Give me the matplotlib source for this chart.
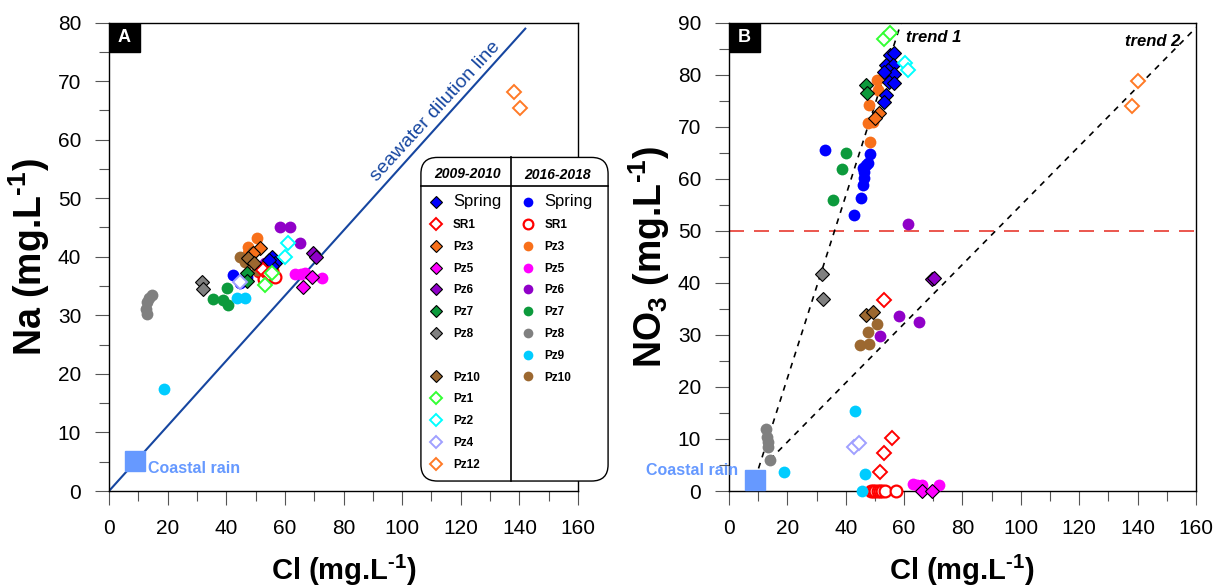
import matplotlib
matplotlib.use('Agg')
import matplotlib.pyplot as plt
from matplotlib.lines import Line2D
from matplotlib.patches import FancyBboxPatch, Rectangle
from matplotlib.ticker import MultipleLocator

plt.rcParams['font.family'] = ['Liberation Sans', 'DejaVu Sans']
plt.rcParams['mathtext.fontset'] = 'custom'
plt.rcParams['mathtext.rm'] = 'Liberation Sans'
plt.rcParams['mathtext.bf'] = 'Liberation Sans:bold'

# ---- panel A : Cl vs Na, 2009-2010 campaign (diamonds) ----
a_cl_spring_old = [53.2, 55.6, 56.6, 55.6, 54.5]
a_na_spring_old = [38.5, 40.0, 39.0, 38.5, 39.5]
a_cl_sr1_old = [52.5, 54.5]
a_na_sr1_old = [37.8, 37.0]
a_cl_pz3_old = [51.5, 49.1]
a_na_pz3_old = [41.5, 40.6]
a_cl_pz5_old = [69.3, 66.2]
a_na_pz5_old = [36.5, 34.8]
a_cl_pz6_old = [69.6, 70.6]
a_na_pz6_old = [40.6, 40.0]
a_cl_pz7_old = [47.1, 47.1]
a_na_pz7_old = [37.2, 35.8]
a_cl_pz8_old = [31.7, 32.1]
a_na_pz8_old = [35.7, 34.5]
a_cl_pz10_old = [47.5, 49.5]
a_na_pz10_old = [39.8, 39.0]
a_cl_pz1_old = [55.6, 53.2]
a_na_pz1_old = [37.2, 35.2]
a_cl_pz2_old = [61.1, 60.1]
a_na_pz2_old = [42.3, 40.0]
a_cl_pz4_old = [44.7]
a_na_pz4_old = [35.7]
a_cl_pz12_old = [138.2, 140.3]
a_na_pz12_old = [68.1, 65.4]

# ---- panel A : 2016-2018 campaign (circles) ----
a_cl_spring_new = [42.3, 45.7, 44.7, 47.0, 52.0]
a_na_spring_new = [36.9, 36.0, 35.5, 36.5, 38.0]
a_cl_sr1_new = [51.0, 52.5, 54.0, 55.5, 56.5, 53.0]
a_na_sr1_new = [37.5, 38.0, 36.8, 37.5, 36.6, 36.2]
a_cl_pz3_new = [50.5, 47.4, 47.4]
a_na_pz3_new = [43.2, 41.6, 40.6]
a_cl_pz5_new = [63.5, 65.5, 67.0, 72.5]
a_na_pz5_new = [37.0, 37.1, 37.2, 36.3]
a_cl_pz6_new = [58.4, 61.8, 65.2, 53.2]
a_na_pz6_new = [45.0, 45.0, 42.3, 38.9]
a_cl_pz7_new = [40.3, 35.5, 38.9, 40.6]
a_na_pz7_new = [34.6, 32.8, 32.6, 31.7]
a_cl_pz8_new = [12.5, 12.8, 13.5, 14.5, 13.0]
a_na_pz8_new = [31.0, 32.2, 33.0, 33.5, 30.2]
a_cl_pz9_new = [18.8, 43.7, 46.4]
a_na_pz9_new = [17.4, 33.0, 33.0]
a_cl_pz10_new = [44.7, 46.4, 48.1, 49.1, 50.5, 47.4]
a_na_pz10_new = [40.0, 39.1, 40.0, 40.8, 37.7, 38.9]

# ---- panel B : Cl vs NO3, 2009-2010 campaign (diamonds) ----
b_cl_spring_old = [55.0, 56.4, 53.7, 56.1, 54.4, 56.4, 53.0, 54.7, 56.4, 53.7, 53.0]
b_no3_spring_old = [83.7, 84.1, 81.8, 81.8, 80.8, 80.2, 80.4, 78.5, 78.3, 76.0, 74.7]
b_cl_sr1_old = [53.0, 55.7, 53.0, 51.6]
b_no3_sr1_old = [36.7, 10.2, 7.3, 3.6]
b_cl_pz3_old = [51.3, 49.9]
b_no3_pz3_old = [72.6, 71.6]
b_cl_pz5_old = [66.0, 69.4]
b_no3_pz5_old = [0.0, 0.0]
b_cl_pz6_old = [69.7, 70.4]
b_no3_pz6_old = [40.7, 40.9]
b_cl_pz7_old = [46.8, 47.2]
b_no3_pz7_old = [77.9, 76.4]
b_cl_pz8_old = [31.8, 32.1]
b_no3_pz8_old = [41.6, 36.8]
b_cl_pz10_old = [46.8, 49.2]
b_no3_pz10_old = [33.8, 34.4]
b_cl_pz1_old = [53.0, 55.0]
b_no3_pz1_old = [86.9, 87.9]
b_cl_pz2_old = [60.2, 61.2]
b_no3_pz2_old = [82.3, 80.8]
b_cl_pz4_old = [42.7, 44.4]
b_no3_pz4_old = [8.4, 9.2]
b_cl_pz12_old = [140.2, 138.1]
b_no3_pz12_old = [78.7, 73.9]

# ---- panel B : 2016-2018 campaign (circles) ----
b_cl_spring_new = [32.8, 48.2, 46.8, 46.2, 46.2, 45.8, 45.1, 42.7, 47.5, 45.8]
b_no3_spring_new = [65.5, 64.7, 62.6, 61.2, 60.1, 58.7, 56.2, 53.0, 63.1, 62.0]
b_cl_sr1_new = [48.5, 49.3, 50.1, 50.9, 51.7, 52.5, 53.3, 57.1]
b_no3_sr1_new = [0.0, 0.0, 0.0, 0.0, 0.0, 0.0, 0.0, 0.0]
b_cl_pz3_new = [50.6, 50.9, 47.9, 47.5, 49.2, 48.2]
b_no3_pz3_new = [78.9, 77.0, 74.1, 70.6, 70.8, 67.0]
b_cl_pz5_new = [63.2, 64.5, 66.3, 72.1]
b_no3_pz5_new = [1.3, 1.2, 1.2, 1.2]
b_cl_pz6_new = [61.2, 58.1, 65.0, 51.6]
b_no3_pz6_new = [51.2, 33.6, 32.4, 29.8]
b_cl_pz7_new = [40.0, 38.6, 35.6]
b_no3_pz7_new = [64.9, 61.8, 55.9]
b_cl_pz8_new = [12.6, 13.0, 13.3, 13.3, 14.0]
b_no3_pz8_new = [11.9, 10.4, 9.4, 8.4, 5.9]
b_cl_pz9_new = [43.1, 18.8, 46.5, 45.5]
b_no3_pz9_new = [15.4, 3.6, 3.3, 0.0]
b_cl_pz10_new = [50.6, 47.5, 44.8, 47.9]
b_no3_pz10_new = [32.0, 30.5, 28.0, 28.2]

# coastal rain end-member, reference lines
rain_cl = [9.0]
rain_na = [5.1]
rain_no3 = [2.1]
seawater_cl = [0, 142]
seawater_na = [0, 142 * 0.556]
trend1_cl = [8.9, 59.0]
trend1_no3 = [2.2, 90.0]
trend2_cl = [14.0, 160.0]
trend2_no3 = [6.0, 89.0]
no3_limit = 50

# colours per well
colors = {
    'Spring': '#0000ff', 'SR1': '#ff0000', 'Pz3': '#f8701a', 'Pz5': '#ff00ff',
    'Pz6': '#9000c8', 'Pz7': '#0c9a3c', 'Pz8': '#808080', 'Pz9': '#00ccff',
    'Pz10': '#9c6830', 'Pz1': '#33ff33', 'Pz2': '#00ffff', 'Pz4': '#a0a0ff',
    'Pz12': '#ff7a26',
}
open_wells = ['SR1', 'Pz1', 'Pz2', 'Pz4', 'Pz12']
rain_color = '#6699ff'
sea_color = '#1646a0'
SUP = '$^{\\mathbf{\u20101}}$'


def old_style(name):
    c = colors[name]
    if name in open_wells:
        return dict(marker='D', ms=7, mfc='white', mec=c, mew=1.4, ls='none')
    return dict(marker='D', ms=7, mfc=c, mec='black', mew=0.8, ls='none')


def new_style(name):
    c = colors[name]
    if name in open_wells:
        return dict(marker='o', ms=8.5, mfc='white', mec=c, mew=1.6, ls='none')
    return dict(marker='o', ms=8.5, mfc=c, mec=c, mew=0, ls='none')


fig = plt.figure(figsize=(12.26, 5.86), dpi=100)
axA = fig.add_axes([0.0889, 0.1621, 0.3826, 0.7995])
axB = fig.add_axes([0.5946, 0.1621, 0.3809, 0.7995])

# ---------------- panel A ----------------
axA.plot(seawater_cl, seawater_na, color=sea_color, lw=1.5, zorder=1)
axA.text(91.5, 52.8, 'seawater dilution line', color=sea_color, fontsize=14,
         rotation=47.5, rotation_mode='anchor', ha='left', va='baseline')

a_new = [('Spring', a_cl_spring_new, a_na_spring_new), ('SR1', a_cl_sr1_new, a_na_sr1_new),
         ('Pz3', a_cl_pz3_new, a_na_pz3_new), ('Pz5', a_cl_pz5_new, a_na_pz5_new),
         ('Pz6', a_cl_pz6_new, a_na_pz6_new), ('Pz7', a_cl_pz7_new, a_na_pz7_new),
         ('Pz8', a_cl_pz8_new, a_na_pz8_new), ('Pz9', a_cl_pz9_new, a_na_pz9_new),
         ('Pz10', a_cl_pz10_new, a_na_pz10_new)]
a_old = [('Spring', a_cl_spring_old, a_na_spring_old), ('SR1', a_cl_sr1_old, a_na_sr1_old),
         ('Pz3', a_cl_pz3_old, a_na_pz3_old), ('Pz5', a_cl_pz5_old, a_na_pz5_old),
         ('Pz6', a_cl_pz6_old, a_na_pz6_old), ('Pz7', a_cl_pz7_old, a_na_pz7_old),
         ('Pz8', a_cl_pz8_old, a_na_pz8_old), ('Pz10', a_cl_pz10_old, a_na_pz10_old),
         ('Pz1', a_cl_pz1_old, a_na_pz1_old), ('Pz2', a_cl_pz2_old, a_na_pz2_old),
         ('Pz4', a_cl_pz4_old, a_na_pz4_old), ('Pz12', a_cl_pz12_old, a_na_pz12_old)]
for name, x, y in a_new:
    axA.plot(x, y, clip_on=False, zorder=3, **new_style(name))
for name, x, y in a_old:
    axA.plot(x, y, clip_on=False, zorder=4, **old_style(name))

axA.plot(rain_cl, rain_na, marker='s', ms=14.5, color=rain_color, ls='none', zorder=5)
axA.text(13.3, 3.1, 'Coastal rain', color=rain_color, fontsize=11.5,
         fontweight='bold', va='baseline', ha='left')

axA.set_xlim(0, 160)
axA.set_ylim(0, 80)
axA.xaxis.set_major_locator(MultipleLocator(20))
axA.xaxis.set_minor_locator(MultipleLocator(10))
axA.yaxis.set_major_locator(MultipleLocator(10))
axA.yaxis.set_minor_locator(MultipleLocator(5))
axA.set_xlabel('Cl (mg.L' + SUP + ')', fontsize=21, fontweight='bold', labelpad=11)
axA.set_ylabel('Na (mg.L' + SUP + ')', fontsize=27, fontweight='bold', labelpad=4)

# legend table inside panel A
box = FancyBboxPatch((0.665, 0.0213), 0.399, 0.6907,
                     boxstyle='round,pad=0,rounding_size=0.035',
                     transform=axA.transAxes, facecolor='white', edgecolor='black',
                     lw=1.0, clip_on=False, zorder=10)
axA.add_patch(box)
axA.add_line(Line2D([0.857, 0.857], [0.0213, 0.712], transform=axA.transAxes,
                    color='black', lw=1.2, clip_on=False, zorder=11))
axA.add_line(Line2D([0.665, 1.064], [0.652, 0.652], transform=axA.transAxes,
                    color='black', lw=1.2, clip_on=False, zorder=11))
axA.text(0.765, 0.677, '2009-2010', transform=axA.transAxes, fontsize=10,
         fontweight='bold', fontstyle='italic', ha='center', va='center', zorder=12)
axA.text(0.957, 0.674, '2016-2018', transform=axA.transAxes, fontsize=10,
         fontweight='bold', fontstyle='italic', ha='center', va='center', zorder=12)

old_order = ['Spring', 'SR1', 'Pz3', 'Pz5', 'Pz6', 'Pz7', 'Pz8', None,
             'Pz10', 'Pz1', 'Pz2', 'Pz4', 'Pz12']
new_order = ['Spring', 'SR1', 'Pz3', 'Pz5', 'Pz6', 'Pz7', 'Pz8', 'Pz9', 'Pz10']
old_handles = []
old_labels = []
for name in old_order:
    if name is None:
        old_handles.append(Line2D([], [], ls='none'))
        old_labels.append(' ')
    else:
        st = old_style(name)
        st['ms'] = 6.5
        old_handles.append(Line2D([], [], **st))
        old_labels.append(name)
new_handles = []
for name in new_order:
    st = new_style(name)
    st['ms'] = 7
    new_handles.append(Line2D([], [], **st))

leg_kw = dict(frameon=False, prop={'weight': 'bold', 'size': 8.5}, handlelength=1.0,
              handletextpad=0.9, labelspacing=0.83, borderaxespad=0, borderpad=0.3,
              loc='upper left')
legA = axA.legend(old_handles, old_labels, bbox_to_anchor=(0.678, 0.641), **leg_kw)
legA.set_zorder(12)
axA.add_artist(legA)
legB = axA.legend(new_handles, new_order, bbox_to_anchor=(0.873, 0.641), **leg_kw)
legB.set_zorder(12)
for leg in (legA, legB):
    t0 = leg.get_texts()[0]
    t0.set_fontsize(12)
    t0.set_fontweight('normal')

# ---------------- panel B ----------------
axB.axhline(no3_limit, color='#e83a30', lw=1.2, ls=(0, (9, 6)), zorder=1)
axB.plot(trend1_cl, trend1_no3, color='black', lw=1.2, ls=(0, (3.5, 3.5)), zorder=1)
axB.plot(trend2_cl, trend2_no3, color='black', lw=1.2, ls=(0, (3.5, 3.5)), zorder=1)
axB.text(60.5, 87.2, 'trend 1', fontsize=12, fontweight='bold', fontstyle='italic',
         ha='left', va='center')
axB.text(154.5, 86.4, 'trend 2', fontsize=12, fontweight='bold', fontstyle='italic',
         ha='right', va='center')

b_new = [('Spring', b_cl_spring_new, b_no3_spring_new), ('SR1', b_cl_sr1_new, b_no3_sr1_new),
         ('Pz3', b_cl_pz3_new, b_no3_pz3_new), ('Pz5', b_cl_pz5_new, b_no3_pz5_new),
         ('Pz6', b_cl_pz6_new, b_no3_pz6_new), ('Pz7', b_cl_pz7_new, b_no3_pz7_new),
         ('Pz8', b_cl_pz8_new, b_no3_pz8_new), ('Pz9', b_cl_pz9_new, b_no3_pz9_new),
         ('Pz10', b_cl_pz10_new, b_no3_pz10_new)]
b_old = [('Spring', b_cl_spring_old, b_no3_spring_old), ('SR1', b_cl_sr1_old, b_no3_sr1_old),
         ('Pz3', b_cl_pz3_old, b_no3_pz3_old), ('Pz5', b_cl_pz5_old, b_no3_pz5_old),
         ('Pz6', b_cl_pz6_old, b_no3_pz6_old), ('Pz7', b_cl_pz7_old, b_no3_pz7_old),
         ('Pz8', b_cl_pz8_old, b_no3_pz8_old), ('Pz10', b_cl_pz10_old, b_no3_pz10_old),
         ('Pz1', b_cl_pz1_old, b_no3_pz1_old), ('Pz2', b_cl_pz2_old, b_no3_pz2_old),
         ('Pz4', b_cl_pz4_old, b_no3_pz4_old), ('Pz12', b_cl_pz12_old, b_no3_pz12_old)]
for name, x, y in b_new:
    axB.plot(x, y, clip_on=False, zorder=3, **new_style(name))
for name, x, y in b_old:
    axB.plot(x, y, clip_on=False, zorder=4, **old_style(name))

axB.plot(rain_cl, rain_no3, marker='s', ms=14.5, color=rain_color, ls='none',
         clip_on=False, zorder=5)
axB.text(3.0, 3.0, 'Coastal rain', color=rain_color, fontsize=11.5,
         fontweight='bold', va='baseline', ha='right', zorder=6)

axB.set_xlim(0, 160)
axB.set_ylim(0, 90)
axB.xaxis.set_major_locator(MultipleLocator(20))
axB.xaxis.set_minor_locator(MultipleLocator(10))
axB.yaxis.set_major_locator(MultipleLocator(10))
axB.yaxis.set_minor_locator(MultipleLocator(5))
axB.set_xlabel('Cl (mg.L' + SUP + ')', fontsize=21, fontweight='bold', labelpad=11)
axB.set_ylabel('NO$_{\\mathbf{3}}$ (mg.L' + SUP + ')', fontsize=27,
               fontweight='bold', labelpad=4)

for ax, letter in ((axA, 'A'), (axB, 'B')):
    ax.tick_params(which='major', direction='out', length=10, width=0.8,
                   labelsize=15, pad=10, color='#555555')
    ax.tick_params(which='minor', direction='out', length=7, width=0.8, color='#555555')
    for sp in ax.spines.values():
        sp.set_linewidth(1.0)
    ax.add_patch(Rectangle((0.0, 0.938), 0.066, 0.062, transform=ax.transAxes,
                           facecolor='black', edgecolor='black', zorder=8))
    ax.text(0.033, 0.969, letter, transform=ax.transAxes, color='white', fontsize=13,
            fontweight='bold', ha='center', va='center', zorder=9)

fig.savefig('out.png', dpi=100)
